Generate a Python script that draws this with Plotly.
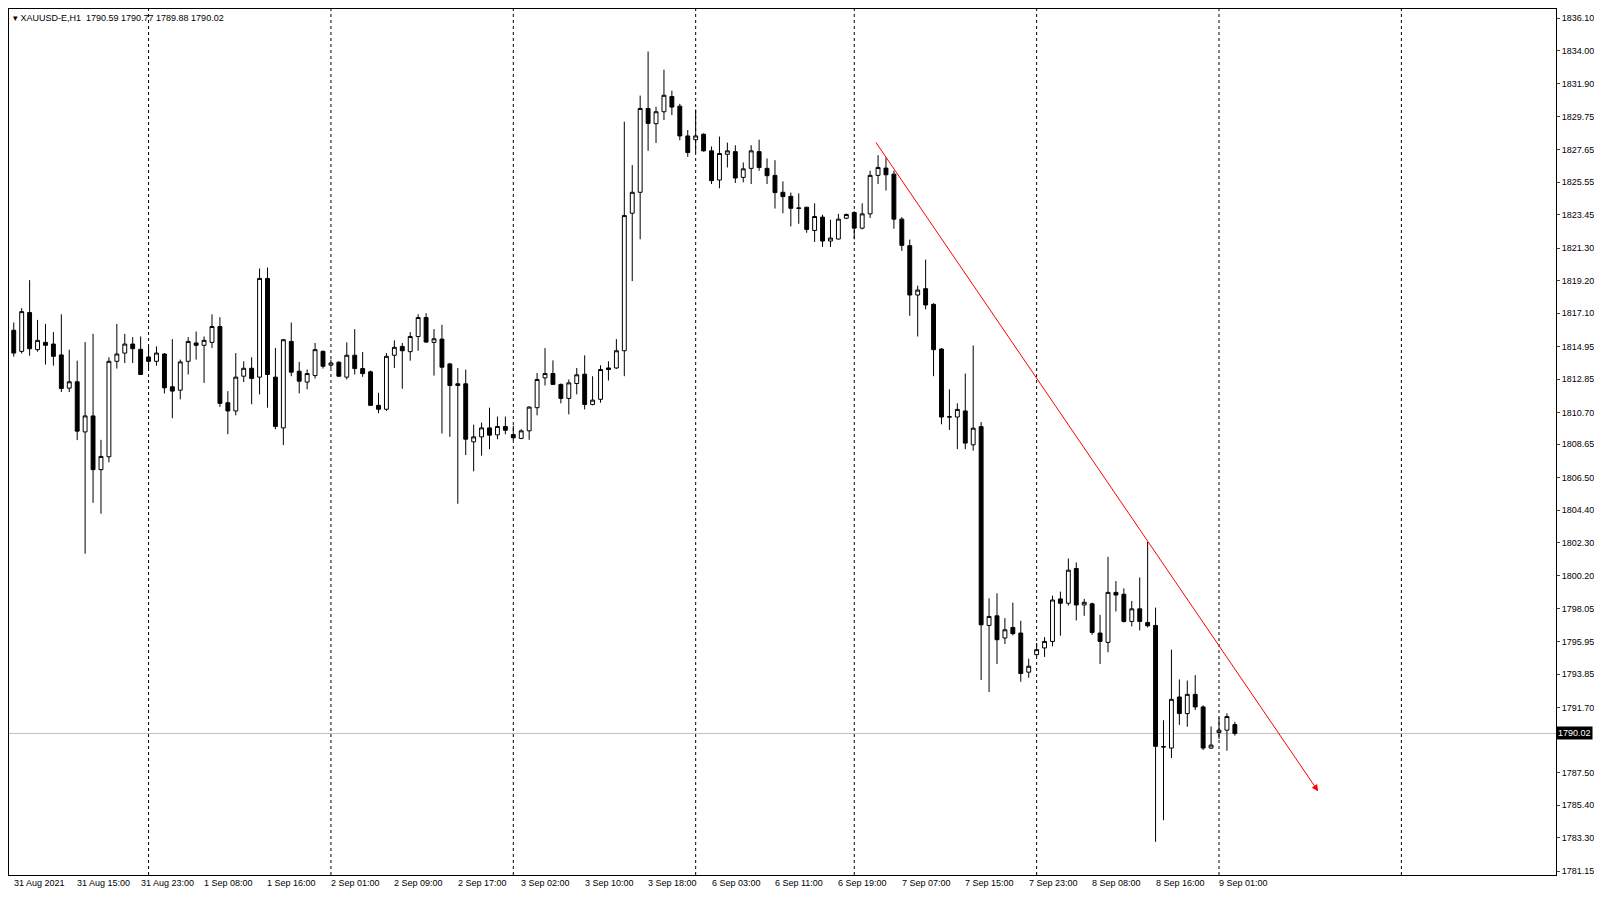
import plotly.graph_objects as go

# XAUUSD-E H1 candles (oldest first)
opens = [1816.0, 1814.64, 1817.14, 1814.75, 1815.22, 1815.11, 1814.41, 1812.27, 1812.68, 1809.45,
         1810.48, 1807.02, 1807.85, 1814.00, 1814.53, 1815.11, 1814.77, 1814.28, 1814.00, 1814.47,
         1812.36, 1812.14, 1814.00, 1815.18, 1815.03, 1815.22, 1816.24, 1811.33, 1810.80, 1813.04,
         1813.55, 1812.98, 1819.34, 1812.98, 1809.71, 1815.28, 1813.36, 1812.66, 1813.08, 1814.64,
         1813.75, 1813.94, 1812.98, 1814.39, 1813.53, 1813.32, 1811.16, 1810.91, 1814.39, 1814.96,
         1814.62, 1815.60, 1816.82, 1815.22, 1815.43, 1813.83, 1812.55, 1812.55, 1808.81, 1809.13,
         1809.71, 1809.26, 1809.80, 1809.28, 1809.03, 1809.52, 1811.01, 1812.93, 1813.21, 1812.51,
         1811.61, 1812.57, 1813.17, 1811.22, 1811.55, 1813.57, 1813.57, 1814.68, 1823.54, 1824.89,
         1830.29, 1829.31, 1830.08, 1831.06, 1830.44, 1828.52, 1828.28, 1828.63, 1827.56, 1825.68,
         1827.34, 1827.51, 1825.85, 1826.43, 1827.51, 1826.43, 1825.98, 1824.89, 1824.63, 1823.88,
         1823.93, 1822.43, 1823.29, 1821.75, 1821.88, 1823.22, 1823.59, 1822.58, 1823.50, 1825.98,
         1826.45, 1826.06, 1823.16, 1821.45, 1818.27, 1818.68, 1817.67, 1814.79, 1810.43, 1810.41,
         1810.80, 1808.62, 1809.79, 1796.98, 1797.60, 1796.17, 1796.85, 1796.49, 1793.97, 1795.10,
         1795.53, 1795.95, 1798.69, 1798.41, 1800.65, 1798.30, 1798.37, 1796.49, 1795.89, 1799.11,
         1798.99, 1797.24, 1798.05, 1797.17, 1796.98, 1789.17, 1789.08, 1792.37, 1791.30, 1792.54,
         1791.73, 1789.08, 1790.08, 1790.23, 1790.59]
highs = [1816.5, 1817.42, 1819.23, 1816.67, 1816.41, 1815.88, 1817.03, 1814.75, 1814.04, 1815.24,
         1815.77, 1808.94, 1814.26, 1816.41, 1815.77, 1815.56, 1815.60, 1814.96, 1814.96, 1814.53,
         1815.43, 1814.11, 1815.56, 1815.92, 1815.60, 1817.03, 1816.84, 1812.08, 1814.53, 1814.00,
         1814.26, 1819.98, 1820.04, 1814.86, 1815.43, 1816.50, 1813.96, 1813.47, 1815.18, 1814.70,
         1814.11, 1814.00, 1815.22, 1816.07, 1814.60, 1813.40, 1811.97, 1814.53, 1815.35, 1815.18,
         1815.88, 1817.03, 1817.10, 1816.07, 1816.35, 1813.90, 1813.57, 1813.47, 1809.92, 1810.05,
         1811.01, 1810.44, 1810.44, 1809.84, 1809.62, 1811.10, 1813.25, 1814.85, 1814.06, 1812.57,
         1812.83, 1813.57, 1814.38, 1813.04, 1813.74, 1814.00, 1815.43, 1829.44, 1826.64, 1831.12,
         1833.96, 1830.40, 1832.79, 1831.44, 1830.59, 1828.90, 1830.23, 1828.69, 1827.84, 1828.48,
         1828.09, 1827.92, 1826.81, 1827.92, 1828.28, 1827.07, 1826.96, 1825.59, 1824.87, 1824.82,
         1823.95, 1824.18, 1823.44, 1823.12, 1823.50, 1823.52, 1823.67, 1824.18, 1826.28, 1827.28,
         1827.13, 1826.28, 1823.29, 1821.84, 1818.87, 1820.55, 1817.74, 1814.85, 1812.19, 1811.29,
         1813.21, 1815.02, 1810.09, 1798.73, 1799.05, 1797.45, 1798.45, 1797.28, 1794.84, 1795.85,
         1796.23, 1798.90, 1799.16, 1801.29, 1801.04, 1798.69, 1798.45, 1797.66, 1801.40, 1799.84,
         1799.37, 1798.56, 1800.07, 1802.36, 1798.13, 1790.87, 1795.42, 1793.50, 1793.43, 1793.78,
         1791.83, 1790.47, 1791.04, 1791.32, 1790.77]
lows = [1814.3, 1814.50, 1814.36, 1814.62, 1813.79, 1813.72, 1812.02, 1812.02, 1808.92, 1801.60,
        1804.88, 1804.18, 1807.49, 1813.53, 1813.89, 1813.89, 1813.15, 1813.51, 1813.72, 1811.93,
        1810.33, 1811.55, 1813.15, 1814.11, 1812.61, 1814.86, 1811.06, 1809.30, 1810.52, 1812.66,
        1811.23, 1811.87, 1811.01, 1809.62, 1808.60, 1813.04, 1811.93, 1812.19, 1812.89, 1813.53,
        1813.57, 1813.00, 1812.83, 1813.15, 1813.00, 1811.16, 1810.65, 1810.80, 1813.57, 1812.23,
        1814.04, 1814.68, 1815.18, 1813.08, 1809.35, 1809.13, 1804.82, 1807.96, 1806.91, 1807.92,
        1808.34, 1808.98, 1809.30, 1808.92, 1808.98, 1808.94, 1810.52, 1812.44, 1812.51, 1811.29,
        1810.58, 1811.87, 1810.90, 1811.16, 1811.33, 1812.76, 1813.51, 1813.04, 1819.17, 1821.86,
        1827.56, 1828.07, 1829.54, 1829.86, 1828.24, 1827.17, 1827.45, 1827.51, 1825.42, 1825.15,
        1826.49, 1825.49, 1825.53, 1825.42, 1826.28, 1825.42, 1823.84, 1823.54, 1822.69, 1822.86,
        1822.28, 1821.69, 1821.37, 1821.37, 1821.84, 1823.16, 1821.86, 1822.50, 1823.24, 1825.42,
        1825.00, 1822.54, 1821.11, 1816.93, 1815.60, 1817.35, 1813.04, 1809.94, 1809.58, 1808.34,
        1808.34, 1808.24, 1793.46, 1792.69, 1794.50, 1795.78, 1796.34, 1793.35, 1793.61, 1794.95,
        1794.95, 1795.63, 1796.32, 1798.26, 1797.30, 1797.60, 1796.38, 1794.50, 1795.25, 1797.88,
        1797.17, 1796.92, 1796.66, 1796.85, 1783.04, 1784.43, 1788.44, 1790.57, 1790.45, 1791.53,
        1788.95, 1789.02, 1789.66, 1788.91, 1789.88]
closes = [1814.53, 1817.20, 1814.81, 1815.35, 1815.03, 1814.32, 1812.25, 1812.68, 1809.50, 1810.48,
          1807.02, 1807.87, 1814.00, 1814.47, 1815.11, 1814.81, 1813.15, 1814.00, 1814.53, 1812.29,
          1812.08, 1813.96, 1815.28, 1815.03, 1815.35, 1816.24, 1811.29, 1810.80, 1812.98, 1813.55,
          1812.89, 1819.34, 1813.15, 1809.80, 1815.39, 1813.30, 1812.72, 1813.21, 1814.75, 1813.68,
          1813.89, 1813.04, 1814.39, 1813.53, 1813.21, 1811.16, 1810.91, 1814.32, 1814.90, 1814.68,
          1815.60, 1816.82, 1815.24, 1815.45, 1813.62, 1812.44, 1812.44, 1808.98, 1809.13, 1809.71,
          1809.24, 1809.80, 1809.56, 1809.07, 1809.52, 1811.05, 1812.83, 1813.21, 1812.51, 1811.61,
          1812.61, 1813.13, 1811.22, 1811.50, 1813.47, 1813.47, 1814.68, 1823.39, 1824.89, 1830.29,
          1829.33, 1830.08, 1831.14, 1830.38, 1828.52, 1827.45, 1828.52, 1827.56, 1825.64, 1827.39,
          1827.56, 1825.81, 1826.40, 1827.56, 1826.49, 1825.96, 1824.87, 1824.61, 1823.86, 1823.86,
          1822.50, 1823.33, 1821.75, 1821.94, 1823.16, 1823.46, 1822.58, 1823.50, 1825.98, 1826.49,
          1826.02, 1823.16, 1821.47, 1818.27, 1818.59, 1817.63, 1814.75, 1810.41, 1810.41, 1810.90,
          1808.73, 1809.69, 1797.02, 1797.56, 1796.06, 1796.70, 1796.45, 1793.88, 1794.35, 1795.42,
          1795.95, 1798.62, 1798.41, 1800.54, 1798.30, 1798.47, 1796.53, 1795.95, 1799.11, 1798.94,
          1797.24, 1798.05, 1797.24, 1796.96, 1789.19, 1789.15, 1792.22, 1791.30, 1792.54, 1791.73,
          1789.08, 1789.27, 1790.23, 1791.11, 1790.02]

# time labels every 8 bars, dashed day separators
time_labels = ["31 Aug 2021", "31 Aug 15:00", "31 Aug 23:00", "1 Sep 08:00", "1 Sep 16:00",
               "2 Sep 01:00", "2 Sep 09:00", "2 Sep 17:00", "3 Sep 02:00", "3 Sep 10:00",
               "3 Sep 18:00", "6 Sep 03:00", "6 Sep 11:00", "6 Sep 19:00", "7 Sep 07:00",
               "7 Sep 15:00", "7 Sep 23:00", "8 Sep 08:00", "8 Sep 16:00", "9 Sep 01:00"]
label_bars = list(range(0, 160, 8))
day_bars = [17, 40, 63, 86, 106, 129, 152, 175]

price_ticks = [1836.10, 1834.00, 1831.90, 1829.75, 1827.65, 1825.55, 1823.45, 1821.30, 1819.20,
               1817.10, 1814.95, 1812.85, 1810.70, 1808.65, 1806.50, 1804.40, 1802.30, 1800.20,
               1798.05, 1795.95, 1793.85, 1791.70, 1787.50, 1785.40, 1783.30, 1781.15]
last_price = 1790.02
trend_start = (108.6, 1828.2)
trend_end = (164.5, 1786.3)

bars = list(range(len(closes)))
font = "Liberation Sans"

fig = go.Figure(go.Candlestick(
    x=bars, open=opens, high=highs, low=lows, close=closes,
    increasing=dict(line=dict(color="black", width=1), fillcolor="white"),
    decreasing=dict(line=dict(color="black", width=1), fillcolor="black"),
    whiskerwidth=0, showlegend=False, hoverinfo="skip"))

for b in day_bars:
    fig.add_vline(x=b, line=dict(color="black", width=1, dash="3px,3px"), layer="below")

fig.add_hline(y=last_price, line=dict(color="#c0c0c0", width=1), layer="below")

for b, t in zip(label_bars, time_labels):
    fig.add_annotation(x=b, y=0, xref="x", yref="paper", yanchor="top", xanchor="left",
                       text=t, showarrow=False, xshift=-2, yshift=-1,
                       font=dict(family=font, size=9, color="black"))

fig.add_annotation(x=1, y=last_price, xref="paper", yref="y", xanchor="left", text=f"{last_price:.2f}",
                   showarrow=False, bgcolor="black", font=dict(family=font, size=9, color="white"),
                   borderpad=1)

fig.add_annotation(x=trend_end[0], y=trend_end[1], ax=trend_start[0], ay=trend_start[1],
                   xref="x", yref="y", axref="x", ayref="y", text="", showarrow=True,
                   arrowhead=2, arrowsize=1.3, arrowwidth=1, arrowcolor="#ff0000")

fig.add_annotation(x=0, y=1, xref="paper", yref="paper", xanchor="left", yanchor="top",
                   text="▾ XAUUSD-E,H1  1790.59 1790.77 1789.88 1790.02", showarrow=False,
                   xshift=2, yshift=-2, font=dict(family=font, size=9, color="black"))

# page has an 8px body margin, so the figure is a bit smaller than the window
fig.update_layout(
    width=1586, height=881, autosize=False,
    margin=dict(l=0, r=34, t=0, b=14),
    paper_bgcolor="white", plot_bgcolor="white",
    font=dict(family=font, size=9, color="black"),
    xaxis=dict(range=[-0.6, 194.5], showgrid=False, showticklabels=False, zeroline=False,
               rangeslider=dict(visible=False), showline=True, linecolor="black", mirror=True),
    yaxis=dict(range=[1780.9, 1836.7], side="right", tickvals=price_ticks,
               ticktext=[f"{v:.2f}" for v in price_ticks], ticks="outside", ticklen=3,
               showgrid=False, zeroline=False, showline=True, linecolor="black", mirror=True),
)

fig.write_html("out.html")
